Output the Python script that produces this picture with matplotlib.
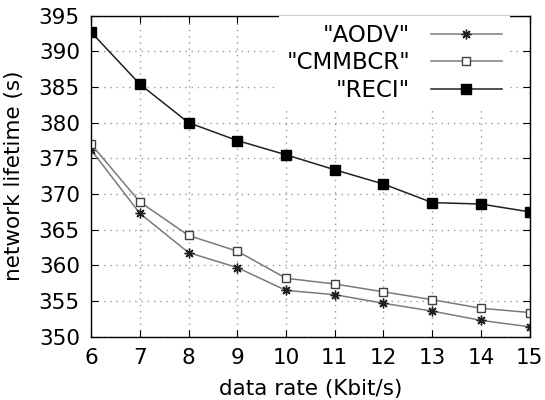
import numpy as np
import matplotlib
matplotlib.use('Agg')
import matplotlib.pyplot as plt

# data rate (Kbit/s)
rate = [6, 7, 8, 9, 10, 11, 12, 13, 14, 15]

# network lifetime (s)
aodv = [376.2, 367.3, 361.8, 359.7, 356.5, 355.9, 354.7, 353.6, 352.3, 351.4]
cmmbcr = [377.0, 368.9, 364.2, 362.0, 358.2, 357.4, 356.3, 355.2, 354.0, 353.4]
reci = [392.7, 385.4, 380.0, 377.5, 375.5, 373.4, 371.4, 368.8, 368.6, 367.5]

plt.rcParams['font.family'] = 'DejaVu Sans'

fig = plt.figure(figsize=(5.45, 4.0), dpi=100)
ax = fig.add_axes([0.167, 0.158, 0.805, 0.803])

ax.plot(rate, aodv, color='#7a7a7a', lw=1.1, marker=(8, 2, 0), ms=7,
        mec='#202020', mew=1.0, label='"AODV"')
ax.plot(rate, cmmbcr, color='#7a7a7a', lw=1.1, marker='s', ms=6,
        mfc='white', mec='#404040', mew=1.0, label='"CMMBCR"')
ax.plot(rate, reci, color='#202020', lw=1.1, marker='s', ms=7,
        mfc='black', mec='black', label='"RECI"')

ax.set_xlim(6, 15)
ax.set_ylim(350, 395)
ax.set_xticks(rate)
ax.set_yticks(np.arange(350, 396, 5))
ax.grid(True, color='#999999', linestyle=(0, (1, 3.5)), linewidth=1.0)
ax.tick_params(direction='in', top=True, right=True, length=5, labelsize=15.5,
               pad=8)
for s in ax.spines.values():
    s.set_linewidth(1.0)

ax.set_xlabel('data rate (Kbit/s)', fontsize=15.5, labelpad=8)
ax.set_ylabel('network lifetime (s)', fontsize=15.5, labelpad=11)

leg = ax.legend(loc='upper right', frameon=True, fontsize=16.5,
                handlelength=3.1, handletextpad=0.9,
                markerfirst=False, borderaxespad=0.0, labelspacing=0.2,
                borderpad=0.35, fancybox=False, framealpha=1.0,
                bbox_to_anchor=(0.955, 1.0))
leg.get_frame().set_edgecolor('none')
for t in leg.get_texts():
    t.set_ha('right')
leg._legend_box.align = 'right'

fig.savefig('out.png', dpi=100)
